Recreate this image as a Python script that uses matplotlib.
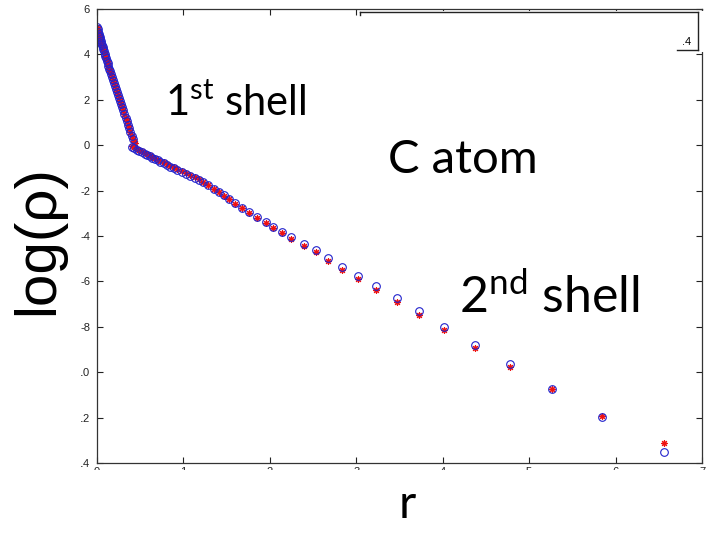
import matplotlib
matplotlib.use("Agg")
import matplotlib.pyplot as plt
from matplotlib.patches import Rectangle
from matplotlib.lines import Line2D
import numpy as np

plt.rcParams['mathtext.fontset'] = 'custom'
plt.rcParams['mathtext.rm'] = 'Lato'

# 1st shell branch (r, log rho), blue and red coincide
r1 = np.array([0.000, 0.006, 0.012, 0.018, 0.024, 0.030, 0.036, 0.043, 0.050, 0.057,
               0.064, 0.072, 0.080, 0.088, 0.096, 0.105, 0.114, 0.123, 0.132, 0.142,
               0.152, 0.162, 0.172, 0.183, 0.194, 0.205, 0.216, 0.228, 0.240, 0.252,
               0.264, 0.277, 0.290, 0.303, 0.316, 0.330, 0.344, 0.358, 0.372, 0.386,
               0.400, 0.414])
blue1 = np.array([5.20, 5.10, 5.00, 4.91, 4.83, 4.75, 4.67, 4.58, 4.50, 4.41,
                  4.33, 4.23, 4.13, 4.03, 3.93, 3.82, 3.71, 3.60, 3.49, 3.37,
                  3.25, 3.13, 3.01, 2.88, 2.75, 2.62, 2.49, 2.35, 2.21, 2.07,
                  1.95, 1.82, 1.68, 1.53, 1.38, 1.22, 1.06, 0.90, 0.74, 0.58,
                  0.42, 0.27])
red1 = blue1.copy()
r1_red_tail = np.array([0.428, 0.440])
red1_tail = np.array([0.16, 0.08])

# 2nd shell branch
r2 = np.array([0.40, 0.43, 0.46, 0.49, 0.52, 0.55, 0.58, 0.61, 0.64, 0.67,
               0.70, 0.73, 0.77, 0.81, 0.85, 0.89, 0.93, 0.98, 1.03, 1.08,
               1.13, 1.18, 1.23, 1.29, 1.35, 1.41, 1.47, 1.53, 1.60, 1.68,
               1.76, 1.85, 1.95, 2.04, 2.14, 2.25, 2.40, 2.53, 2.67, 2.84,
               3.02, 3.23, 3.47, 3.72, 4.02, 4.37, 4.78, 5.27, 5.84, 6.56])
blue2 = np.array([-0.08, -0.13, -0.19, -0.25, -0.31, -0.37, -0.43, -0.49, -0.55, -0.61,
                  -0.67, -0.73, -0.80, -0.87, -0.94, -1.01, -1.08, -1.17, -1.25, -1.34,
                  -1.43, -1.52, -1.63, -1.77, -1.92, -2.06, -2.20, -2.36, -2.54, -2.75,
                  -2.96, -3.17, -3.39, -3.62, -3.82, -4.06, -4.34, -4.63, -4.99, -5.36,
                  -5.77, -6.20, -6.74, -7.30, -8.00, -8.80, -9.66, -10.75, -11.98, -13.52])
red2 = np.array([-0.04, -0.09, -0.15, -0.21, -0.27, -0.33, -0.39, -0.45, -0.51, -0.57,
                 -0.63, -0.69, -0.76, -0.83, -0.90, -0.97, -1.04, -1.13, -1.22, -1.31,
                 -1.41, -1.50, -1.61, -1.76, -1.92, -2.07, -2.22, -2.38, -2.57, -2.78,
                 -3.00, -3.22, -3.44, -3.66, -3.88, -4.12, -4.42, -4.72, -5.09, -5.50,
                 -5.91, -6.36, -6.90, -7.47, -8.16, -8.94, -9.76, -10.74, -11.93, -13.13])

yticks = [6, 4, 2, 0, -2, -4, -6, -8, -10, -12, -14]
xticks = [0, 1, 2, 3, 4, 5, 6, 7]

W, H = 706, 533
fig = plt.figure(figsize=(W / 100, H / 100), dpi=100)
ax = fig.add_axes([97 / W, 70 / H, 605 / W, 454 / H])

blue = '#2222cc'
red = '#ee1111'
star = (8, 2, 0)
# red asterisks underneath, open blue circles on top
ax.plot(r1, red1, ls='none', marker=star, ms=4.8, mec=red, mew=0.8)
ax.plot(r1_red_tail, red1_tail, ls='none', marker=star, ms=4.8, mec=red, mew=0.8)
ax.plot(r2, red2, ls='none', marker=star, ms=4.8, mec=red, mew=0.8)
ax.plot(r1, blue1, 'o', ms=5.5, mfc='none', mec=blue, mew=0.8)
ax.plot(r2, blue2, 'o', ms=5.5, mfc='none', mec=blue, mew=0.8)

ax.set_xlim(0, 7)
ax.set_ylim(-14, 6)
ax.set_xticks(xticks)
ax.set_yticks(yticks)
ax.set_xticklabels([str(t) for t in xticks])
ax.set_yticklabels([str(t) for t in yticks])
ax.tick_params(direction='in', length=4, width=0.8, top=True, right=True,
               labelsize=8, colors='#222222', pad=5)
ax.tick_params(axis='x', pad=3)
for lbl in ax.get_xticklabels() + ax.get_yticklabels():
    lbl.set_fontfamily('Liberation Sans')
for s in ax.spines.values():
    s.set_linewidth(0.9)
    s.set_color('#333333')

# cropped edges of the original screenshot
fig.add_artist(Rectangle((0, 0), 81 / W, 1, transform=fig.transFigure,
                         facecolor='white', edgecolor='none', zorder=1))
fig.add_artist(Rectangle((0, 0), 1, 63 / H, transform=fig.transFigure,
                         facecolor='white', edgecolor='none', zorder=1))
# remains of a blanked-out legend box
fig.add_artist(Rectangle((360 / W, (H - 52) / H), (W - 360) / W, 41 / H,
                         transform=fig.transFigure, facecolor='white',
                         edgecolor='none', zorder=1))
def pline(xs, ys):
    fig.add_artist(Line2D([x / W for x in xs], [(H - y) / H for y in ys],
                          transform=fig.transFigure, color='#222222', lw=1.0, zorder=2))
pline([360, 698], [12, 12])
pline([698, 698], [12, 50])
pline([677, 698], [50, 50])
pline([360, 360], [12, 15])
fig.text(691 / W, (H - 42) / H, '.4', ha='right', va='center', fontsize=8,
         family='Liberation Sans', zorder=3)

# annotations
fig.text(165 / W, (H - 103) / H, r'1$^{\mathrm{st}}$ shell', fontsize=30,
         family='Lato', va='center', zorder=3)
fig.text(388 / W, (H - 160) / H, 'C atom', fontsize=34,
         family='Lato', va='center', zorder=3)
fig.text(459 / W, (H - 297) / H, r'2$^{\mathrm{nd}}$ shell', fontsize=36,
         family='Lato', va='center', zorder=3)

fig.text(38 / W, (H - 240) / H, 'log(ρ)', rotation=90, fontsize=42,
         family='Liberation Sans', ha='center', va='center', zorder=3)
fig.text(407 / W, (H - 505) / H, 'r', fontsize=34, family='Lato',
         ha='center', va='center', zorder=3)

fig.savefig('out.png', dpi=100)
